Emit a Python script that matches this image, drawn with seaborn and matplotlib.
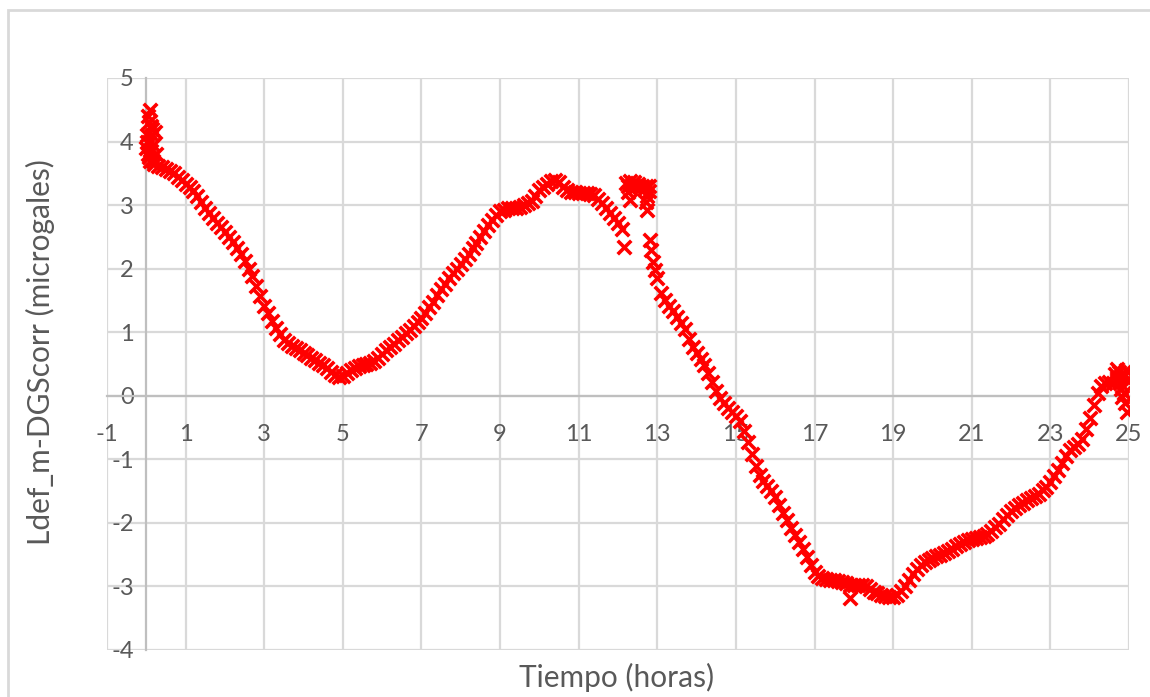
import matplotlib
matplotlib.use("Agg")
import matplotlib.pyplot as plt
from matplotlib.patches import Rectangle
import seaborn as sns
import pandas as pd

# ---- data ----
# initial noisy cluster near t = 0
t_start = [0.00, 0.02, 0.03, 0.04, 0.05, 0.06, 0.07, 0.08, 0.10, 0.10, 0.12, 0.12, 0.14, 0.15, 0.16, 0.18, 0.22, 0.25]
y_start = [3.90, 4.10, 4.00, 4.40, 3.80, 4.30, 3.75, 4.00, 4.50, 3.70, 4.25, 3.85, 4.10, 4.20, 3.95, 3.70, 4.15, 3.80]

t_a = [0.2, 0.3, 0.4, 0.5, 0.6, 0.7, 0.8, 0.9, 1.0, 1.1, 1.2, 1.3, 1.4, 1.5, 1.6, 1.7, 1.8, 1.9,
       2.0, 2.1, 2.2, 2.3, 2.4, 2.5, 2.6, 2.7, 2.8, 2.9, 3.0, 3.1, 3.2, 3.3, 3.4, 3.5, 3.6, 3.7,
       3.8, 3.9, 4.0, 4.1, 4.2, 4.3, 4.4, 4.5, 4.6, 4.7, 4.8, 4.9, 5.0, 5.1, 5.2, 5.3, 5.4, 5.5,
       5.6, 5.7, 5.8, 5.9, 6.0, 6.1, 6.2, 6.3, 6.4, 6.5, 6.6, 6.7, 6.8, 6.9]
y_a = [3.65, 3.62, 3.60, 3.57, 3.53, 3.50, 3.45, 3.40, 3.34, 3.29, 3.22, 3.14, 3.05, 2.95, 2.88, 2.80, 2.72, 2.65,
       2.57, 2.50, 2.42, 2.33, 2.23, 2.12, 2.00, 1.88, 1.73, 1.57, 1.42, 1.30, 1.18, 1.07, 0.97, 0.88, 0.83, 0.79,
       0.75, 0.72, 0.68, 0.64, 0.60, 0.56, 0.52, 0.48, 0.43, 0.38, 0.33, 0.29, 0.31, 0.36, 0.40, 0.44, 0.47, 0.49,
       0.50, 0.52, 0.55, 0.60, 0.66, 0.72, 0.77, 0.82, 0.87, 0.93, 0.98, 1.04, 1.10, 1.16]

t_b = [7.0, 7.1, 7.2, 7.3, 7.4, 7.5, 7.6, 7.7, 7.8, 7.9, 8.0, 8.1, 8.2, 8.3, 8.4, 8.5, 8.6, 8.7,
       8.8, 8.9, 9.0, 9.1, 9.2, 9.3, 9.4, 9.5, 9.6, 9.7, 9.8, 9.9, 10.0, 10.1, 10.2, 10.3, 10.4, 10.5,
       10.6, 10.7, 10.8, 10.9, 11.0, 11.1, 11.2, 11.3, 11.4, 11.5, 11.6, 11.7, 11.8, 11.9, 12.0, 12.1, 12.15]
y_b = [1.22, 1.30, 1.39, 1.48, 1.58, 1.68, 1.76, 1.85, 1.93, 2.00, 2.08, 2.15, 2.23, 2.32, 2.41, 2.50, 2.60, 2.69,
       2.77, 2.85, 2.91, 2.93, 2.95, 2.96, 2.96, 2.97, 3.00, 3.03, 3.07, 3.15, 3.23, 3.29, 3.34, 3.38, 3.39, 3.36,
       3.28, 3.24, 3.21, 3.20, 3.19, 3.19, 3.19, 3.18, 3.16, 3.10, 3.04, 2.96, 2.88, 2.80, 2.72, 2.63, 2.34]

# jump near t = 12-13
t_jump = [12.20, 12.25, 12.30, 12.35, 12.40, 12.45, 12.50, 12.55, 12.60, 12.65, 12.70, 12.75, 12.80,
          12.30, 12.25, 12.70, 12.75, 12.80]
y_jump = [3.35, 3.30, 3.38, 3.32, 3.36, 3.30, 3.34, 3.28, 3.30, 3.25, 3.30, 3.15, 3.22,
          3.08, 3.20, 3.05, 2.92, 3.30]

t_c = [12.82, 12.85, 12.9, 12.95, 13.0, 13.1, 13.2, 13.3, 13.4, 13.5, 13.6, 13.7, 13.8, 13.9, 14.0,
       14.1, 14.2, 14.3, 14.4, 14.5, 14.6, 14.7, 14.8, 14.9, 15.0, 15.1, 15.2, 15.3, 15.4, 15.5, 15.6,
       15.7, 15.8, 15.9, 16.0, 16.1, 16.2, 16.3, 16.4, 16.5, 16.6, 16.7, 16.8, 16.9, 17.0, 17.1, 17.2,
       17.3, 17.4, 17.5, 17.6, 17.7, 17.8, 17.9, 17.9, 18.0, 18.1, 18.2, 18.3, 18.4, 18.5, 18.6, 18.7,
       18.8, 18.9, 19.0, 19.1, 19.2, 19.3, 19.4, 19.5, 19.6, 19.7, 19.8, 19.9]
y_c = [2.45, 2.30, 2.10, 1.98, 1.85, 1.62, 1.50, 1.42, 1.33, 1.24, 1.15, 1.05, 0.90, 0.77, 0.68,
       0.58, 0.48, 0.36, 0.22, 0.08, -0.04, -0.12, -0.20, -0.26, -0.32, -0.40, -0.55, -0.72, -0.92, -1.10, -1.24,
       -1.34, -1.42, -1.50, -1.60, -1.72, -1.84, -1.96, -2.08, -2.19, -2.30, -2.41, -2.53, -2.66, -2.77, -2.84, -2.87,
       -2.88, -2.90, -2.90, -2.92, -2.93, -2.95, -2.97, -3.18, -2.98, -2.97, -2.97, -3.00, -3.04, -3.08, -3.11, -3.13,
       -3.15, -3.16, -3.16, -3.13, -3.07, -2.99, -2.90, -2.81, -2.73, -2.67, -2.62, -2.58]

t_d = [20.0, 20.1, 20.2, 20.3, 20.4, 20.5, 20.6, 20.7, 20.8, 20.9, 21.0, 21.1, 21.2, 21.3, 21.4, 21.5,
       21.6, 21.7, 21.8, 21.9, 22.0, 22.1, 22.2, 22.3, 22.4, 22.5, 22.6, 22.7, 22.8, 22.9, 23.0, 23.1,
       23.2, 23.3, 23.4, 23.5, 23.6, 23.7, 23.8, 23.9, 24.0, 24.1, 24.2, 24.3, 24.4, 24.5, 24.6, 24.65,
       24.7, 24.75, 24.8, 24.85, 24.9, 24.95]
y_d = [-2.55, -2.52, -2.50, -2.47, -2.44, -2.41, -2.37, -2.33, -2.30, -2.27, -2.25, -2.23, -2.22, -2.20, -2.17, -2.13,
       -2.07, -2.01, -1.94, -1.88, -1.82, -1.77, -1.72, -1.68, -1.64, -1.61, -1.58, -1.54, -1.49, -1.43, -1.36, -1.27,
       -1.17, -1.05, -0.95, -0.86, -0.80, -0.76, -0.68, -0.53, -0.35, -0.14, 0.05, 0.15, 0.20, 0.21, 0.20, 0.35,
       0.42, 0.38, 0.30, 0.35, 0.32, 0.25]

# noisy end near t = 25
t_end = [24.70, 24.78, 24.80, 24.83, 24.87, 24.90, 24.92, 24.95]
y_end = [0.28, 0.20, 0.10, -0.02, 0.05, -0.12, 0.40, -0.25]

x_ticks = [-1, 1, 3, 5, 7, 9, 11, 13, 15, 17, 19, 21, 23, 25]
y_ticks = [-4, -3, -2, -1, 0, 1, 2, 3, 4, 5]
x_title = "Tiempo (horas)"
y_title = "Ldef_m-DGScorr (microgales)"

# ---- build frame ----
t_all = t_start + t_a + t_b + t_jump + t_c + t_d + t_end
y_all = y_start + y_a + y_b + y_jump + y_c + y_d + y_end
df = pd.DataFrame({"t": t_all, "y": y_all})

sns.set_theme(style="white")
plt.rcParams["font.family"] = ["Lato", "DejaVu Sans"]

W, H = 1150, 697
fig = plt.figure(figsize=(W / 100, H / 100), dpi=100)
ax = fig.add_axes([107 / W, 1 - 650 / H, 1022 / W, 572 / H])

grid_c = "#d9d9d9"
axis_c = "#bfbfbf"
text_c = "#595959"

sns.scatterplot(data=df, x="t", y="y", ax=ax, marker="x", s=95, color="#ff0000",
                linewidth=2.6, legend=False, zorder=5)

ax.set_xlim(-1, 25)
ax.set_ylim(-4, 5)
ax.set_xticks(x_ticks)
ax.set_yticks(y_ticks)
ax.set_xticklabels([str(v) for v in x_ticks])
ax.set_yticklabels([str(v) for v in y_ticks])
ax.grid(True, color=grid_c, linewidth=1.6)
for gl in ax.get_xgridlines() + ax.get_ygridlines():
    gl.set_clip_on(False)
ax.set_axisbelow(True)

for side in ["top", "right"]:
    ax.spines[side].set_visible(False)
ax.spines["left"].set_position(("data", 0))
ax.spines["bottom"].set_position(("data", 0))
ax.spines["left"].set_color(axis_c)
ax.spines["bottom"].set_color(axis_c)
ax.spines["left"].set_linewidth(1.6)
ax.spines["bottom"].set_linewidth(1.6)

ax.tick_params(axis="both", which="major", length=4, width=1.4, color=axis_c,
               labelsize=17, labelcolor=text_c, direction="out")
ax.tick_params(axis="x", pad=16)
ax.tick_params(axis="y", pad=5)
ax.set_xlabel("")
ax.set_ylabel("")

fig.text(617 / W, 1 - 677 / H, x_title, ha="center", va="center", fontsize=21.5, color=text_c)
fig.text(40 / W, 1 - 352 / H, y_title, ha="center", va="center", rotation=90,
         fontsize=21.5, color=text_c)

# outer chart border (cropped at right and bottom)
fig.patches.append(Rectangle((8 / W, -0.2), 1.2, 1.2 - 10 / H, transform=fig.transFigure,
                             fill=False, edgecolor=grid_c, linewidth=2.0, zorder=0))

fig.savefig("out.png", dpi=100)
